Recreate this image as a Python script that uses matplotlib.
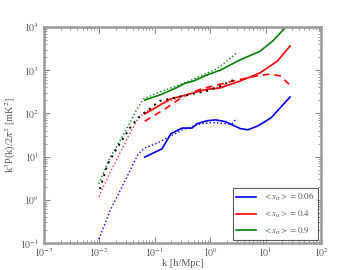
import numpy as np
import matplotlib
matplotlib.use("Agg")
import matplotlib.pyplot as plt

# ---- data (log10 k, log10 P) ----
g_sol_lk = [-1.18, -0.90, -0.60, -0.45, -0.30, -0.18, -0.04, 0.18, 0.54, 0.90, 1.13, 1.35, 1.44]
g_sol_lp = [2.31, 2.43, 2.60, 2.70, 2.75, 2.82, 2.90, 3.00, 3.24, 3.44, 3.68, 3.98, 4.15]
g_dot_lk = [-2.01, -1.81, -1.63, -1.48, -1.36, -1.21, -0.96, -0.37, -0.18, 0.12, 0.30, 0.48]
g_dot_lp = [0.37, 0.97, 1.36, 1.71, 2.01, 2.33, 2.47, 2.75, 2.87, 3.03, 3.21, 3.40]

r_sol_lk = [-1.18, -1.00, -0.73, -0.37, -0.18, -0.04, 0.18, 0.54, 0.90, 1.21, 1.44]
r_sol_lp = [1.99, 2.12, 2.33, 2.45, 2.52, 2.56, 2.59, 2.75, 2.94, 3.21, 3.56]
r_dash_lk = [-1.18, -0.95, -0.82, -0.50, -0.18, 0.41, 0.85, 1.08, 1.26, 1.42]
r_dash_lp = [1.82, 2.00, 2.10, 2.38, 2.56, 2.75, 2.87, 2.91, 2.87, 2.68]
r_dot_lk = [-2.01, -1.81, -1.63, -1.45, -1.32, -1.18, -0.90, -0.55, -0.20, 0.10, 0.30]
r_dot_lp = [0.07, 0.62, 1.08, 1.54, 1.84, 2.03, 2.20, 2.38, 2.52, 2.60, 2.68]

k_dot_lk = [-1.99, -1.85, -1.68, -1.45, -1.30, -1.10, -0.91, -0.49, -0.06, 0.18, 0.41]
k_dot_lp = [0.25, 0.83, 1.20, 1.66, 1.90, 2.10, 2.29, 2.40, 2.52, 2.63, 2.77]

b_sol_lk = [-1.18, -0.87, -0.71, -0.51, -0.33, -0.24, -0.06, 0.10, 0.27, 0.54, 0.68, 0.86, 1.10, 1.44]
b_sol_lp = [0.99, 1.18, 1.53, 1.66, 1.66, 1.76, 1.83, 1.85, 1.81, 1.65, 1.62, 1.71, 1.90, 2.38]
b_dot_lk = [-2.01, -1.81, -1.63, -1.45, -1.30, -1.18, -0.96, -0.78, -0.50, -0.18, 0.05, 0.30, 0.39, 0.48]
b_dot_lp = [-0.91, -0.26, 0.20, 0.67, 1.06, 1.20, 1.31, 1.43, 1.62, 1.76, 1.79, 1.76, 1.76, 1.89]

labels = [r"$<x_\alpha>=0.06$", r"$<x_\alpha>=0.4$", r"$<x_\alpha>=0.9$"]
xticks_exp = [-3, -2, -1, 0, 1, 2]
yticks_exp = [-1, 0, 1, 2, 3, 4]

plt.rcParams['font.family'] = ['Liberation Serif', 'DejaVu Serif']
plt.rcParams['mathtext.fontset'] = 'stix'

fig = plt.figure(figsize=(3.6, 2.7), dpi=100)
ax = fig.add_axes([0.122, 0.1, 0.77, 0.8])

def P(a):
    return 10 ** np.asarray(a)

ax.plot(P(b_sol_lk), P(b_sol_lp), color='#0000ff', lw=1.2, label=labels[0])
ax.plot(P(r_sol_lk), P(r_sol_lp), color='#ff0000', lw=1.2, label=labels[1])
ax.plot(P(g_sol_lk), P(g_sol_lp), color='#008000', lw=1.2, label=labels[2])
ax.plot(P(r_dash_lk), P(r_dash_lp), color='#ff0000', lw=1.2, ls=(0, (4, 3)))
ax.plot(P(g_dot_lk), P(g_dot_lp), color='#008000', lw=1.0, ls=':')
ax.plot(P(r_dot_lk), P(r_dot_lp), color='#ff3030', lw=1.0, ls=':')
ax.plot(P(k_dot_lk), P(k_dot_lp), color='black', lw=1.4, ls=(0, (1, 2.5)))
ax.plot(P(b_dot_lk), P(b_dot_lp), color='#0000ff', lw=1.0, ls=':')

ax.set_xscale('log')
ax.set_yscale('log')
ax.set_xlim(1e-3, 1e2)
ax.set_ylim(1e-1, 1e4)
ax.set_xticks([10.0 ** e for e in xticks_exp])
ax.set_xticklabels([r"$10^{%d}$" % e for e in xticks_exp])
ax.set_yticks([10.0 ** e for e in yticks_exp])
ax.set_yticklabels([r"$10^{%d}$" % e for e in yticks_exp])

tc = '#555555'
for s in ax.spines.values():
    s.set_color('#999999')
    s.set_linewidth(1.8)
ax.tick_params(which='both', direction='in', top=True, right=True, colors='#888888',
               labelcolor=tc, labelsize=7)
ax.tick_params(which='major', length=4, width=0.8)
ax.tick_params(which='minor', length=2, width=0.6)
ax.tick_params(axis='x', pad=2)

ax.set_xlabel("k [h/Mpc]", fontsize=7.5, color=tc, labelpad=0)
ax.set_ylabel(r"k$^3$P(k)/2$\pi^2$ [mK$^2$]", fontsize=7.5, color=tc, labelpad=1)

leg = ax.legend(loc='lower right', fontsize=6.5, frameon=True, fancybox=False,
                borderaxespad=0.3, handlelength=2.2, labelspacing=0.6)
leg.get_frame().set_edgecolor('#333333')
leg.get_frame().set_linewidth(0.8)
for t in leg.get_texts():
    t.set_color(tc)

fig.savefig('out.png', dpi=100)
